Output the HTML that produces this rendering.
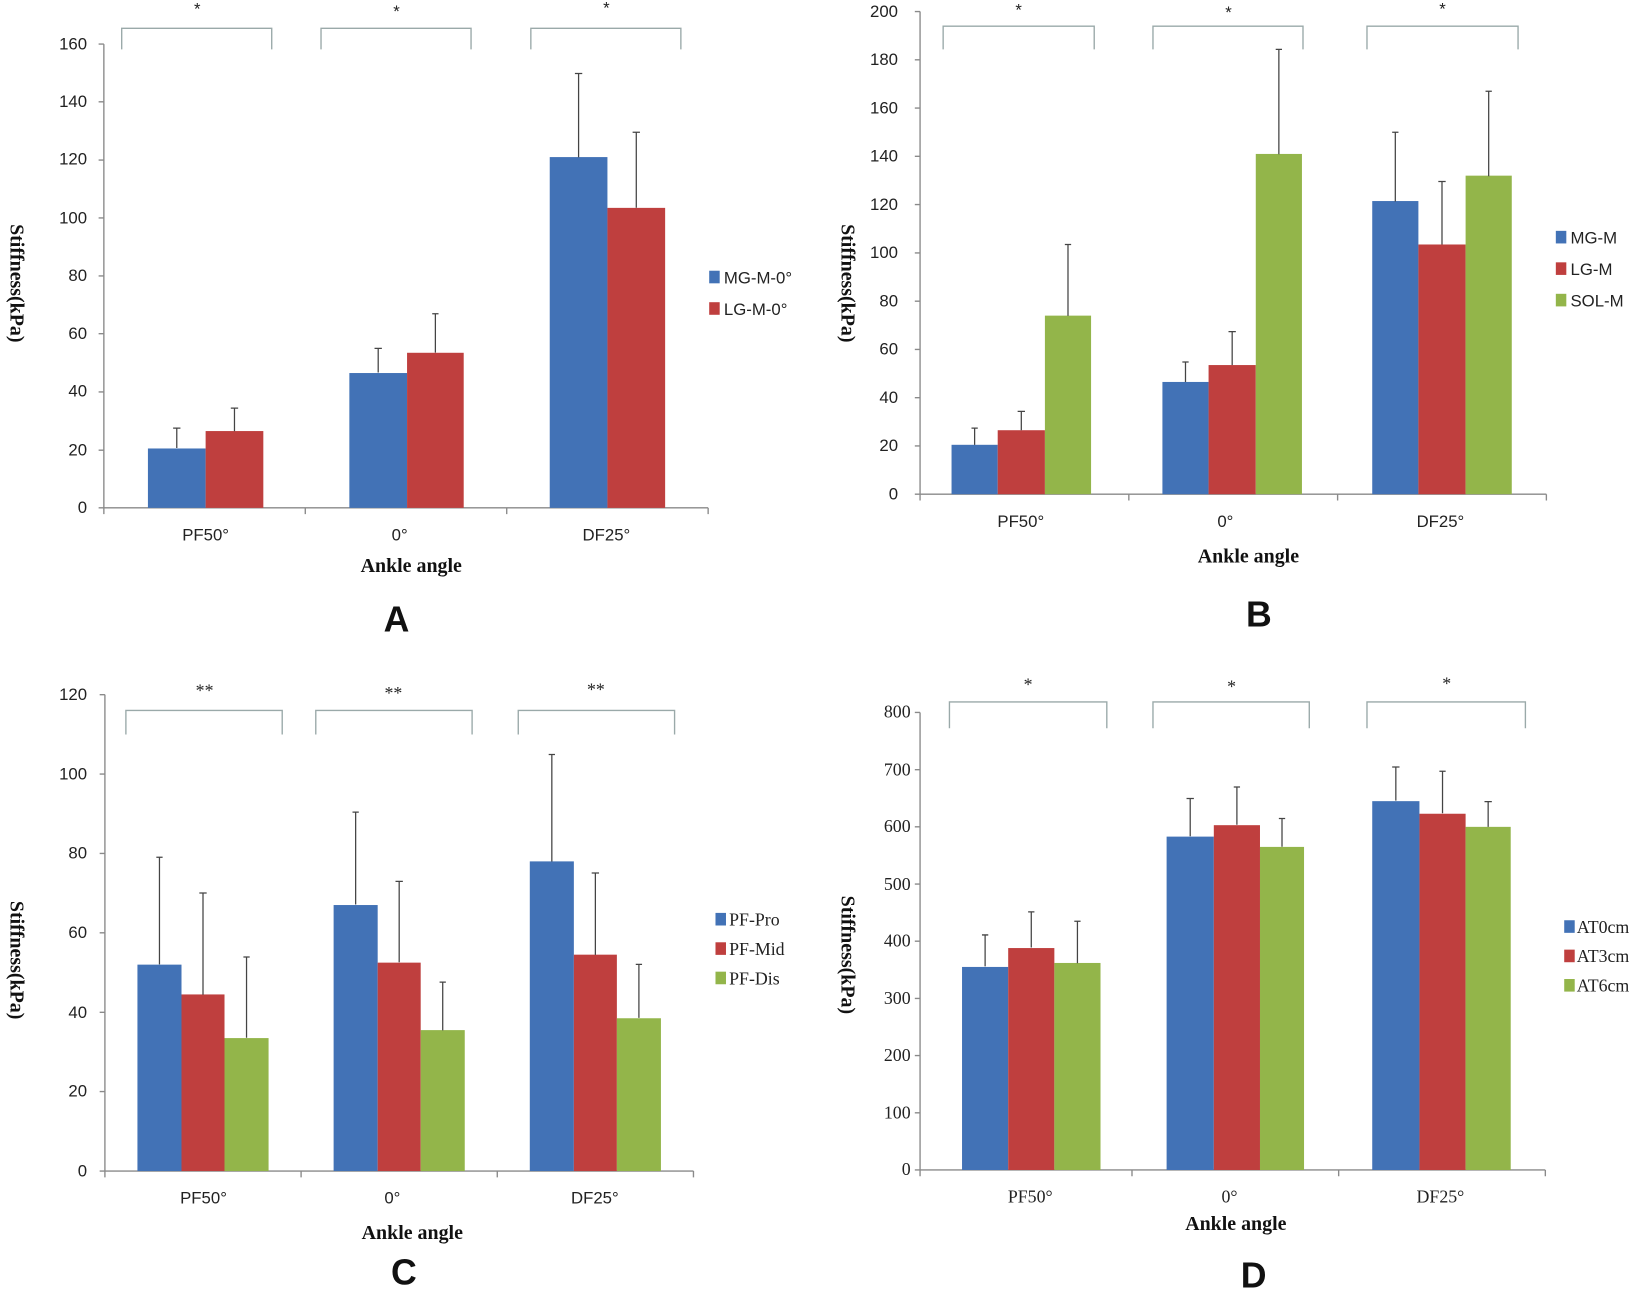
<!DOCTYPE html>
<html><head><meta charset="utf-8"><style>
html,body{margin:0;padding:0;background:#fff}
svg{display:block}
.s{font-family:"Liberation Sans",sans-serif;font-size:16px;fill:#222}
.r{font-family:"Liberation Serif",serif;font-size:17px;fill:#222}
.t{font-family:"Liberation Serif",serif;font-size:19px;font-weight:bold;fill:#111}
.big{font-family:"Liberation Sans",sans-serif;font-size:34px;font-weight:bold;fill:#111}
.ax{stroke:#8a8a8a;stroke-width:1.3;fill:none}
.br{stroke:#9aa9a9;stroke-width:1.3;fill:none}
.e{stroke:#444;stroke-width:1.2}
.b{fill:#4272b6}.d{fill:#bf3f3e}.g{fill:#93b54a}
</style></head><body>
<svg width="1645" height="1298" viewBox="0 0 1568 1237" preserveAspectRatio="none" xmlns="http://www.w3.org/2000/svg">
<!-- ===== A ===== -->
<g>
<path class="ax" d="M99 42V484H675M94 42H99M94 97H99M94 152.5H99M94 207.7H99M94 263H99M94 318H99M94 373.5H99M94 429H99M94 484H99M99 484V490M291 484V490M483 484V490M675 484V490"/>
<g class="s" text-anchor="end">
<text x="83" y="47">160</text><text x="83" y="102">140</text><text x="83" y="157">120</text><text x="83" y="213">100</text><text x="83" y="268">80</text><text x="83" y="323">60</text><text x="83" y="378">40</text><text x="83" y="434">20</text><text x="83" y="489">0</text></g>
<rect class="b" x="141" y="427.4" width="55" height="56.6"/><rect class="d" x="196" y="410.8" width="55" height="73.2"/>
<rect class="b" x="333" y="355.5" width="55" height="128.5"/><rect class="d" x="388" y="336.2" width="54" height="147.8"/>
<rect class="b" x="524" y="149.7" width="55" height="334.3"/><rect class="d" x="579" y="198.1" width="55" height="285.9"/>
<path class="e" d="M168.5 427V408M165 408H172M223.5 411V389M220 389H227M360.5 355V332M357 332H364M415 336V299M412 299H418M551.5 150V70M548 70H555M606.5 198V126M603 126H610"/>
<path class="br" d="M116 47V27H259V47M306 47V27H449V47M506 47V27H649V47"/>
<g class="s" text-anchor="middle"><text x="188" y="14">*</text><text x="378" y="16">*</text><text x="578" y="13">*</text>
<text x="196" y="515">PF50°</text><text x="381" y="515">0°</text><text x="578" y="515">DF25°</text></g>
<rect class="b" x="676" y="258" width="10" height="12"/><rect class="d" x="676" y="288" width="10" height="12"/>
<text class="s" x="690" y="270">MG-M-0°</text><text class="s" x="690" y="300">LG-M-0°</text>
<text class="t" x="392" y="545" text-anchor="middle">Ankle angle</text>
<text class="t" transform="translate(10,270) rotate(90)" text-anchor="middle">Stiffness(kPa)</text>
<text class="big" x="378" y="602" text-anchor="middle">A</text>
</g>
<!-- ===== B ===== -->
<g>
<path class="ax" d="M877 11V471H1474M872 11H877M872 57H877M872 103H877M872 149H877M872 195H877M872 241H877M872 287H877M872 333H877M872 379H877M872 425H877M872 471H877M877 471V477M1076 471V477M1275 471V477M1474 471V477"/>
<g class="s" text-anchor="end">
<text x="856" y="16">200</text><text x="856" y="62">180</text><text x="856" y="108">160</text><text x="856" y="154">140</text><text x="856" y="200">120</text><text x="856" y="246">100</text><text x="856" y="292">80</text><text x="856" y="338">60</text><text x="856" y="384">40</text><text x="856" y="430">20</text><text x="856" y="476">0</text></g>
<rect class="b" x="907" y="423.9" width="44" height="47.1"/><rect class="d" x="951" y="410" width="45" height="61"/><rect class="g" x="996" y="300.8" width="44" height="170.2"/>
<rect class="b" x="1108" y="364" width="44" height="107"/><rect class="d" x="1152" y="347.9" width="45" height="123.1"/><rect class="g" x="1197" y="146.7" width="44" height="324.3"/>
<rect class="b" x="1308" y="191.6" width="44" height="279.4"/><rect class="d" x="1352" y="233" width="45" height="238"/><rect class="g" x="1397" y="167.4" width="44" height="303.6"/>
<path class="e" d="M929 424V408M926 408H932M973.5 410V392M970 392H977M1018 301V233M1015 233H1021M1130 364V345M1127 345H1133M1174.5 348V316M1171 316H1178M1219 147V47M1216 47H1222M1330 192V126M1327 126H1333M1374.5 233V173M1371 173H1378M1419 168V87M1416 87H1422"/>
<path class="br" d="M899 47V25H1043V47M1099 47V25H1242V47M1303 47V25H1447V47"/>
<g class="s" text-anchor="middle"><text x="971" y="15">*</text><text x="1171" y="17">*</text><text x="1375" y="14">*</text>
<text x="973" y="502">PF50°</text><text x="1168" y="502">0°</text><text x="1373" y="502">DF25°</text></g>
<rect class="b" x="1483" y="220" width="10" height="12"/><rect class="d" x="1483" y="250" width="10" height="12"/><rect class="g" x="1483" y="280" width="10" height="12"/>
<text class="s" x="1497" y="232">MG-M</text><text class="s" x="1497" y="262">LG-M</text><text class="s" x="1497" y="292">SOL-M</text>
<text class="t" x="1190" y="536" text-anchor="middle">Ankle angle</text>
<text class="t" transform="translate(802,270) rotate(90)" text-anchor="middle">Stiffness(kPa)</text>
<text class="big" x="1200" y="597" text-anchor="middle">B</text>
</g>
<!-- ===== C ===== -->
<g>
<path class="ax" d="M100 662V1116H661M95 662H100M95 737.7H100M95 813.3H100M95 889H100M95 964.7H100M95 1040.3H100M95 1116H100M100 1116V1122M287 1116V1122M474 1116V1122M661 1116V1122"/>
<g class="s" text-anchor="end">
<text x="83" y="667">120</text><text x="83" y="743">100</text><text x="83" y="818">80</text><text x="83" y="894">60</text><text x="83" y="970">40</text><text x="83" y="1045">20</text><text x="83" y="1121">0</text></g>
<rect class="b" x="131" y="919.3" width="42" height="196.7"/><rect class="d" x="173" y="947.7" width="41" height="168.3"/><rect class="g" x="214" y="989.3" width="42" height="126.7"/>
<rect class="b" x="318" y="862.5" width="42" height="253.5"/><rect class="d" x="360" y="917.4" width="41" height="198.6"/><rect class="g" x="401" y="981.7" width="42" height="134.3"/>
<rect class="b" x="505" y="820.9" width="42" height="295.1"/><rect class="d" x="547" y="909.8" width="41" height="206.2"/><rect class="g" x="588" y="970.4" width="42" height="145.6"/>
<path class="e" d="M152 919V817M149 817H155M193.5 948V851M190 851H197M235 989V912M232 912H238M339 862V774M336 774H342M380.5 917V840M377 840H384M422 982V936M419 936H425M526 821V719M523 719H529M567.5 910V832M564 832H571M609 970V919M606 919H612"/>
<path class="br" d="M120 700V677H269V700M301 700V677H450V700M494 700V677H643V700"/>
<g class="r" text-anchor="middle"><text x="195" y="664">**</text><text x="375" y="666">**</text><text x="568" y="663">**</text></g>
<g class="s" text-anchor="middle"><text x="194" y="1147">PF50°</text><text x="374" y="1147">0°</text><text x="567" y="1147">DF25°</text></g>
<rect class="b" x="682" y="870" width="10" height="12"/><rect class="d" x="682" y="898" width="10" height="12"/><rect class="g" x="682" y="926" width="10" height="12"/>
<text class="r" x="695" y="882">PF-Pro</text><text class="r" x="695" y="910">PF-Mid</text><text class="r" x="695" y="938">PF-Dis</text>
<text class="t" x="393" y="1181" text-anchor="middle">Ankle angle</text>
<text class="t" transform="translate(10,915) rotate(90)" text-anchor="middle">Stiffness(kPa)</text>
<text class="big" x="385" y="1224" text-anchor="middle">C</text>
</g>
<!-- ===== D ===== -->
<g>
<path class="ax" d="M877 679V1115H1473M872 679H877M872 733.5H877M872 788H877M872 842.5H877M872 897H877M872 951.5H877M872 1006H877M872 1060.5H877M872 1115H877M877 1115V1121M1079 1115V1121M1276 1115V1121M1473 1115V1121"/>
<g class="r" text-anchor="end">
<text x="868" y="684">800</text><text x="868" y="739">700</text><text x="868" y="793">600</text><text x="868" y="848">500</text><text x="868" y="902">400</text><text x="868" y="957">300</text><text x="868" y="1011">200</text><text x="868" y="1066">100</text><text x="868" y="1120">0</text></g>
<rect class="b" x="917" y="921.5" width="44" height="193.5"/><rect class="d" x="961" y="903.5" width="44" height="211.5"/><rect class="g" x="1005" y="917.7" width="44" height="197.3"/>
<rect class="b" x="1112" y="797.3" width="45" height="317.7"/><rect class="d" x="1157" y="786.4" width="44" height="328.6"/><rect class="g" x="1201" y="807.1" width="42" height="307.9"/>
<rect class="b" x="1308" y="763.5" width="45" height="351.5"/><rect class="d" x="1353" y="775.5" width="44" height="339.5"/><rect class="g" x="1397" y="788" width="43" height="327"/>
<path class="e" d="M939 921V891M936 891H942M983 903V869M980 869H986M1027 918V878M1024 878H1030M1134.5 797V761M1131 761H1138M1179 786V750M1176 750H1182M1222 807V780M1219 780H1225M1330.5 763V731M1327 731H1334M1375 775V735M1372 735H1378M1418.5 788V764M1415 764H1422"/>
<path class="br" d="M905 694V669H1055V694M1099 694V669H1248V694M1303 694V669H1454V694"/>
<g class="r" text-anchor="middle"><text x="980" y="658">*</text><text x="1174" y="660">*</text><text x="1379" y="657">*</text>
<text x="982" y="1146">PF50°</text><text x="1172" y="1146">0°</text><text x="1373" y="1146">DF25°</text></g>
<rect class="b" x="1491" y="877" width="10" height="12"/><rect class="d" x="1491" y="905" width="10" height="12"/><rect class="g" x="1491" y="933" width="10" height="12"/>
<text class="r" x="1503" y="889">AT0cm</text><text class="r" x="1503" y="917">AT3cm</text><text class="r" x="1503" y="945">AT6cm</text>
<text class="t" x="1178" y="1172" text-anchor="middle">Ankle angle</text>
<text class="t" transform="translate(802,910) rotate(90)" text-anchor="middle">Stiffness(kPa)</text>
<text class="big" x="1195" y="1227" text-anchor="middle">D</text>
</g>
</svg>
</body></html>
